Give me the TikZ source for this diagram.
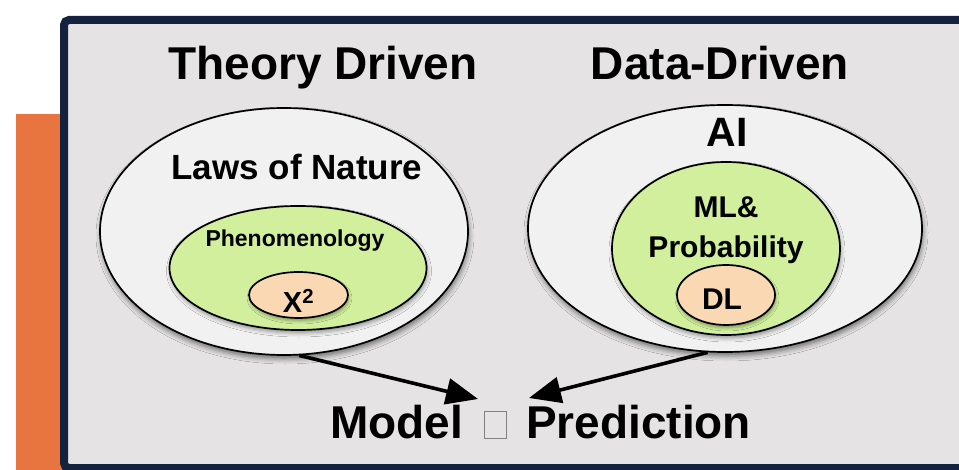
\documentclass[tikz,border=0pt]{standalone}
\usepackage{fontspec}
\setmainfont{Liberation Sans}
\usetikzlibrary{shapes.geometric,arrows.meta,shadows.blur}

\definecolor{frameblue}{HTML}{15223F}
\definecolor{panelgray}{HTML}{E5E3E4}
\definecolor{accentorange}{HTML}{E8743F}
\definecolor{outerfill}{HTML}{F2F1F1}
\definecolor{limefill}{HTML}{D1EF9C}
\definecolor{peachfill}{HTML}{FAD8B4}

\tikzset{
  blob/.style={ellipse, draw=black, line width=1.7pt, inner sep=0pt},
  outerblob/.style={blob, fill=outerfill,
    blur shadow={shadow xshift=1pt, shadow yshift=-4pt, shadow blur radius=5pt, shadow opacity=50}},
  midblob/.style={blob, fill=limefill,
    blur shadow={shadow xshift=1pt, shadow yshift=-3pt, shadow blur radius=4pt, shadow opacity=40}},
  coreblob/.style={blob, fill=peachfill,
    blur shadow={shadow xshift=1pt, shadow yshift=-3pt, shadow blur radius=3pt, shadow opacity=35}},
  txt/.style={anchor=base, inner sep=0pt, text=black},
  bigtxt/.style={txt, font=\fontsize{46}{52}\selectfont\bfseries},
  lawtxt/.style={txt, font=\fontsize{35}{40}\selectfont\bfseries},
  midtxt/.style={txt, font=\fontsize{30}{36}\selectfont\bfseries},
  smalltxt/.style={txt, font=\fontsize{23}{28}\selectfont\bfseries},
  flow/.style={line width=3.6pt, draw=black, -{Triangle[length=32pt,width=26pt]}},
}

\begin{document}
\begin{tikzpicture}[x=1pt,y=-1pt]
  \useasboundingbox (0,0) rectangle (959,470);
  \clip (0,0) rectangle (959,470);

  % orange side strip and framed panel
  \fill[accentorange] (16,114) rectangle (64,475);
  \draw[frameblue, line width=8pt, rounded corners=5pt, fill=panelgray]
    (64,20) rectangle (1000,468);

  % column headings
  \node[bigtxt] (theory) at (323,80) {Theory Driven};
  \node[bigtxt] (data) at (720,80) {Data-Driven};

  % theory-driven nest
  \node[outerblob, minimum width=368pt, minimum height=247pt] (lout) at (284,231.5) {};
  \node[midblob, minimum width=257pt, minimum height=124pt] (lmid) at (298,268) {};
  \node[coreblob, minimum width=99pt, minimum height=46pt] (lcore) at (298.5,295) {};
  \node[lawtxt] (laws) at (297,180) {Laws of Nature};
  \node[smalltxt] (pheno) at (295,247) {Phenomenology};
  \node[txt, font=\fontsize{29}{32}\selectfont\bfseries] (chi) at (298.5,313) {Χ\textsuperscript{2}};

  % data-driven nest
  \node[outerblob, minimum width=394pt, minimum height=247pt] (rout) at (725,228.5) {};
  \node[midblob, minimum width=228pt, minimum height=173pt] (rmid) at (726,248.5) {};
  \node[coreblob, minimum width=98pt, minimum height=60pt] (rcore) at (726,295) {};
  \node[txt, font=\fontsize{41}{46}\selectfont\bfseries] (ai) at (727,147) {AI};
  \node[midtxt] (ml) at (726,218) {ML\&};
  \node[midtxt] (prob) at (726,258) {Probability};
  \node[midtxt] (dl) at (722,310) {DL};

  % result line
  \node[bigtxt, anchor=base west] (pred) at (330,438)
    {Model\hspace{21pt}{\fboxrule=1pt\fboxsep=0pt\color{gray}\fbox{\rule{0pt}{26pt}\hspace{21pt}}}\hspace{19pt}Prediction};
  \coordinate (tipL) at (478,399);
  \coordinate (tipR) at (529,398);

  % connectors
  \draw[flow] (lout.277) -- (tipL);
  \draw[flow] (rout.262) -- (tipR);
\end{tikzpicture}
\end{document}
